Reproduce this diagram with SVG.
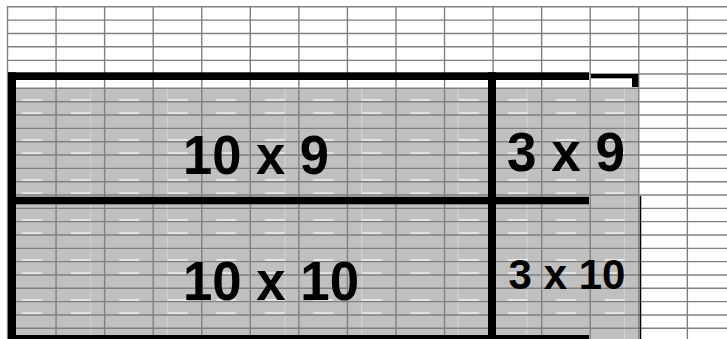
<svg xmlns="http://www.w3.org/2000/svg" width="727" height="339" viewBox="0 0 727 339">
  <style>
    .grid { stroke: #808080; stroke-width: 1.4; fill: none; }
    .faint { stroke: #d6d6d6; stroke-width: 1; fill: none; }
    .bar { fill: #000000; }
    .lbl { font-family: "Liberation Sans", Arial, sans-serif; font-weight: bold; fill: #000000; text-anchor: middle; }
  </style>
  <defs>
    <pattern id="dashes" patternUnits="userSpaceOnUse" x="7.5" y="88.37" width="48.56" height="40">
      <path d="M14.5 11.55 H34.5 M14.5 24.88 H34.5" stroke="#ffffff" stroke-width="1.2" fill="none"/>
    </pattern>
  </defs>
  <rect width="727" height="339" fill="#ffffff"/>
  <g id="shaded-area">
    <rect x="8" y="88" width="631" height="251" fill="#c0c0c0"/>
    <path class="faint" d="M90.7 88 V339 M167.3 88 V339 M285 88 V339 M361.7 88 V339 M458 88 V339 M527 88 V339 M624.3 88 V339"/>
    <rect x="8" y="88" width="631" height="251" fill="url(#dashes)"/>
  </g>
  <g id="grid">
    <path class="grid" d="M7.5 6.8 H727 M7.5 20.1 H727 M7.5 33.5 H727 M7.5 46.8 H727 M7.5 60.4 H727 M7.5 74 H727 M7.5 88.2 H727 M7.5 101.7 H727 M7.5 115.03 H727 M7.5 128.36 H727 M7.5 141.69 H727 M7.5 155.02 H727 M7.5 168.35 H727 M7.5 181.68 H727 M7.5 195.01 H727 M7.5 208.34 H727 M7.5 221.67 H727 M7.5 235 H727 M7.5 248.33 H727 M7.5 261.66 H727 M7.5 274.99 H727 M7.5 288.32 H727 M7.5 301.65 H727 M7.5 314.98 H727 M7.5 328.31 H727"/>
    <path class="grid" d="M7.5 6.1 V339 M56.06 6.1 V339 M104.62 6.1 V339 M153.18 6.1 V339 M201.74 6.1 V339 M250.3 6.1 V339 M298.86 6.1 V339 M347.42 6.1 V339 M395.98 6.1 V339 M444.54 6.1 V339 M493.1 6.1 V339 M541.66 6.1 V339 M590.22 6.1 V339 M638.78 6.1 V339 M687.34 6.1 V339"/>
  </g>
  <g id="connectors">
    <rect class="bar" x="8" y="72.3" width="581" height="7.7"/>
    <rect class="bar" x="8" y="72.3" width="8" height="267"/>
    <rect class="bar" x="8" y="196.8" width="581" height="7.5"/>
    <rect class="bar" x="488" y="72.3" width="8" height="267"/>
    <rect class="bar" x="8" y="335" width="581" height="6"/>
    <rect class="bar" x="591" y="74" width="47" height="4.3"/>
    <rect class="bar" x="632" y="74" width="6.3" height="13"/>
    <line x1="640.5" y1="196" x2="640.5" y2="339" stroke="#000000" stroke-width="1.5"/>
  </g>
  <g id="box-10x9"><text class="lbl" x="256" y="173.5" font-size="56" textLength="146" lengthAdjust="spacingAndGlyphs">10 x 9</text></g>
  <g id="box-3x9"><text class="lbl" x="566" y="170.5" font-size="56" textLength="118" lengthAdjust="spacingAndGlyphs">3 x 9</text></g>
  <g id="box-10x10"><text class="lbl" x="271" y="300" font-size="56" textLength="176" lengthAdjust="spacingAndGlyphs">10 x 10</text></g>
  <g id="box-3x10"><text class="lbl" x="567" y="288.5" font-size="42">3 x 10</text></g>
</svg>
